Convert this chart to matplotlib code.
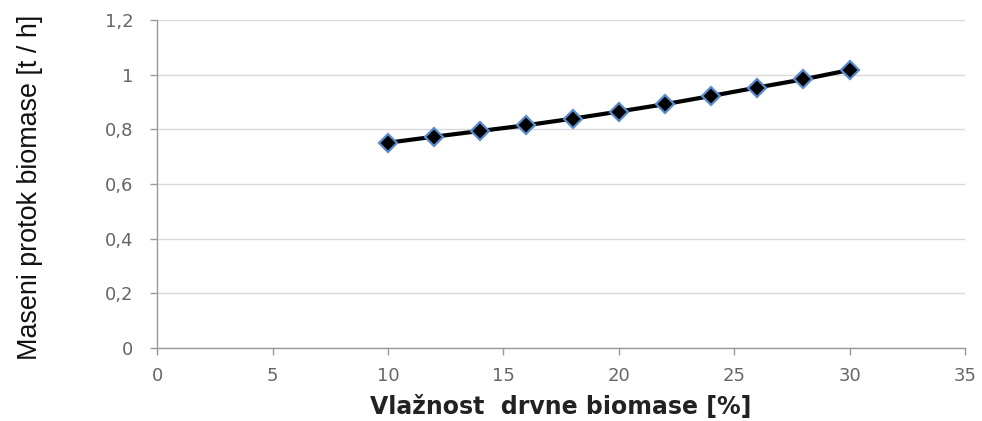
import matplotlib
matplotlib.use("Agg")
import matplotlib.pyplot as plt

# moisture of wood biomass [%] vs. biomass mass flow [t/h]
vlaznost = [10, 12, 14, 16, 18, 20, 22, 24, 26, 28, 30]
protok = [0.751, 0.773, 0.794, 0.815, 0.839, 0.865, 0.892, 0.922, 0.953, 0.983, 1.017]

x_ticks = [0, 5, 10, 15, 20, 25, 30, 35]
y_ticks = [0, 0.2, 0.4, 0.6, 0.8, 1.0, 1.2]
y_tick_labels = ["0", "0,2", "0,4", "0,6", "0,8", "1", "1,2"]

fig = plt.figure(figsize=(9.82, 4.21), dpi=100)
ax = fig.add_axes([0.160, 0.1734, 0.8227, 0.7791])

ax.plot(vlaznost, protok, color="black", linewidth=3, zorder=3)
ax.plot(vlaznost, protok, linestyle="none", marker="D", markersize=9,
        markerfacecolor="black", markeredgecolor="#5a8ccc", markeredgewidth=1.6, zorder=4)

ax.set_xlim(0, 35)
ax.set_ylim(0, 1.2)
ax.set_xticks(x_ticks)
ax.set_yticks(y_ticks)
ax.set_yticklabels(y_tick_labels)

ax.grid(axis="y", color="#d9d9d9", linewidth=1.0)
ax.set_axisbelow(True)
for side in ["top", "right"]:
    ax.spines[side].set_visible(False)
for side in ["left", "bottom"]:
    ax.spines[side].set_color("#9a9a9a")
    ax.spines[side].set_linewidth(1.0)

ax.tick_params(axis="both", colors="#9a9a9a", length=5, width=1, labelsize=13,
               labelcolor="#666666")
ax.tick_params(axis="x", pad=9)
ax.tick_params(axis="y", pad=12)

ax.set_xlabel("Vlažnost  drvne biomase [%]", fontsize=17, fontweight="bold",
              color="#222222", labelpad=7)

# y label: tall condensed look, sized so it spans roughly the plot height
ylab = fig.text(0.031, 0.556, "Maseni protok biomase [t / h]", rotation=90,
                fontsize=20, family="Liberation Sans", color="#111111",
                ha="center", va="center")
fig.canvas.draw()
h = ylab.get_window_extent().height
ylab.set_fontsize(20 * 345 / h)

fig.savefig("out.png", dpi=100)
